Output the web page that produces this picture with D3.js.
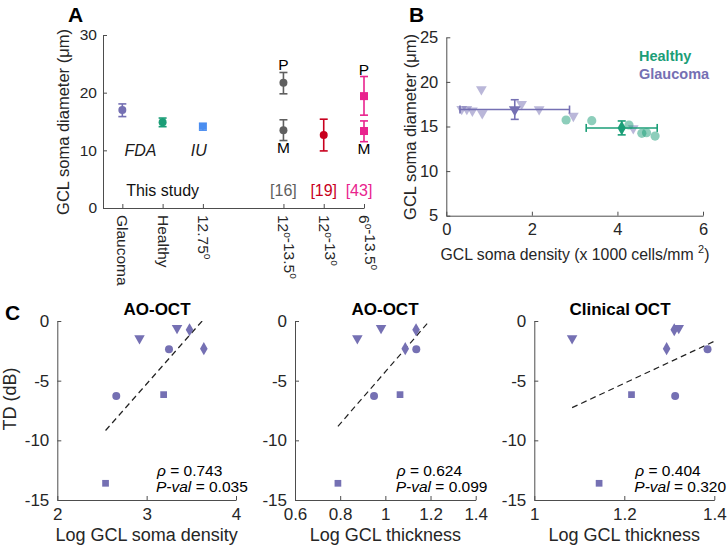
<!DOCTYPE html>
<html>
<head>
<meta charset="utf-8">
<script src="https://cdn.jsdelivr.net/npm/d3@7"></script>
<style>
  body { margin: 0; background: #fff; }
  svg { font-family: "Liberation Sans", Arial, Helvetica, sans-serif; }
  .axis path, .axis line { stroke: #4d4d4d; }
  .axis text { fill: #262626; font-family: "Liberation Sans", Arial, sans-serif; }
</style>
</head>
<body>
<div id="fig"></div>
<script>
// ---- panel A data
var studyCats = ["Glaucoma", "Healthy", "12.75"];
var studyMean = [17.0, 14.85, 14.1];
var studyLo = [15.85, 14.1, 13.5];
var studyHi = [18.05, 15.6, 14.7];
var studyNotes = ["", "FDA", "IU"];
var litCats = ["12-13.5", "12-13.5", "12-13", "6-13.5", "6-13.5"];
var litKind = ["P", "M", "", "P", "M"];
var litMean = [21.7, 13.5, 12.65, 19.4, 13.35];
var litLo = [19.8, 11.7, 9.9, 16.1, 11.5];
var litHi = [23.5, 15.3, 15.4, 22.8, 15.1];
var litRefs = ["[16]", "[19]", "[43]"];
var aCats = ["Glaucoma", "Healthy", "12.75", "", "12-13.5", "12-13", "6-13.5"];
var aTicksY = [0, 10, 20, 30];

// ---- panel B data
var glDensity = [0.36, 0.48, 0.61, 0.84, 0.82, 1.76, 2.17, 2.97, 4.37];
var glDiam = [16.96, 16.96, 16.77, 16.48, 19.17, 17.52, 16.93, 16.18, 14.8];
var hDensity = [2.80, 3.40, 4.27, 4.57, 4.68, 4.88];
var hDiam = [15.73, 15.65, 15.17, 14.24, 14.3, 13.93];
var groupNames = ["Glaucoma", "Healthy"];
var meanDensity = [1.6, 4.1];
var sdDensity = [1.28, 0.83];
var meanDiam = [16.9, 14.84];
var sdDiam = [1.1, 0.78];
var bTicksX = [0, 2, 4, 6];
var bTicksY = [5, 10, 15, 20, 25];

// ---- panel C data
var cShapes = ["triangle", "triangle", "diamond", "diamond", "circle", "circle", "square", "square"];
var td = [-1.45, -0.6, -0.73, -2.32, -2.37, -6.28, -6.17, -13.6];
var logSomaDensity = [2.92, 3.34, 3.48, 3.64, 3.25, 2.66, 3.19, 2.54];
var logThickAO = [0.876, 0.981, 1.136, 1.088, 1.137, 0.950, 1.065, 0.790];
var logThickClin = [1.084, 1.321, 1.311, 1.294, 1.385, 1.313, 1.216, 1.144];
var cTitles = ["AO-OCT", "AO-OCT", "Clinical OCT"];
var cXLabels = ["Log GCL soma density", "Log GCL thickness", "Log GCL thickness"];
var cRho = ["0.743", "0.624", "0.404"];
var cPval = ["0.035", "0.099", "0.320"];
var cTicksX = [[2, 3, 4], [0.6, 0.8, 1, 1.2, 1.4], [1, 1.2, 1.4]];
var cDomains = [[2, 4], [0.6, 1.4], [1, 1.4]];
var cTicksY = [0, -5, -10, -15];

var purple = "#7570b3", green = "#1b9e77";
var W = 728, H = 550;
var plain = function(d) { return String(d); };  // keep hyphen minus like the original

var svg = d3.select("#fig").append("svg").attr("width", W).attr("height", H);

function errBar(g, x, lo, hi, cap, color) {
  g.append("line").attr("x1", x).attr("x2", x).attr("y1", lo).attr("y2", hi)
    .attr("stroke", color).attr("stroke-width", 1.6);
  [lo, hi].forEach(function(y) {
    g.append("line").attr("x1", x - cap).attr("x2", x + cap).attr("y1", y).attr("y2", y)
      .attr("stroke", color).attr("stroke-width", 1.6);
  });
}
function hErrBar(g, y, lo, hi, cap, color) {
  g.append("line").attr("y1", y).attr("y2", y).attr("x1", lo).attr("x2", hi)
    .attr("stroke", color).attr("stroke-width", 1.6);
  [lo, hi].forEach(function(x) {
    g.append("line").attr("y1", y - cap).attr("y2", y + cap).attr("x1", x).attr("x2", x)
      .attr("stroke", color).attr("stroke-width", 1.6);
  });
}
function symPath(shape, size) {
  var t = { triangle: d3.symbolTriangle, diamond: d3.symbolDiamond, circle: d3.symbolCircle, square: d3.symbolSquare }[shape];
  return d3.symbol().type(t).size(size)();
}
function styleAxis(g) {
  g.attr("class", "axis").attr("font-family", null).selectAll("path").attr("stroke-width", 1);
}
function degLabel(sel, txt) {
  // "12-13.5" -> 12o-13.5o with superscript o's
  txt.split("-").forEach(function(p, i) {
    sel.append("tspan").text((i > 0 ? "-" : "") + p);
    sel.append("tspan").attr("font-size", 10).attr("dy", -6).text("o");
    sel.append("tspan").attr("dy", 6).text("");
  });
}

// ================= Panel A =================
var ax = d3.scaleLinear().domain([-0.48, 6]).range([103, 364]);
var ay = d3.scaleLinear().domain([0, 30]).range([208, 35]);
var gA = svg.append("g");

gA.append("g").attr("transform", "translate(0,208)")
  .call(d3.axisBottom(ax).tickValues([0, 1, 2, 4, 5, 6]).tickFormat("").tickSizeInner(-4).tickSizeOuter(0))
  .call(styleAxis);
gA.append("g").attr("transform", "translate(103,0)")
  .call(d3.axisLeft(ay).tickValues(aTicksY).tickFormat(plain).tickSizeInner(-4).tickSizeOuter(0).tickPadding(6))
  .call(styleAxis)
  .selectAll("text").attr("font-size", 15.5);

aCats.forEach(function(c, i) {
  if (!c) return;
  var t = gA.append("text").attr("transform", "translate(" + (ax(i) - 5) + ",215) rotate(90)")
    .attr("font-size", 15.5).attr("fill", "#262626");
  if (c === "Glaucoma" || c === "Healthy") t.text(c);
  else degLabel(t, c);
});

gA.append("text").attr("transform", "translate(69,122) rotate(-90)").attr("text-anchor", "middle")
  .attr("font-size", 16.5).attr("fill", "#262626").text("GCL soma diameter (\u03bcm)");

var studyColors = [purple, green, "#4a8df0"];
var noteShift = [0, -0.55, -0.1];
studyCats.forEach(function(c, i) {
  var x = ax(aCats.indexOf(c));
  errBar(gA, x, ay(studyLo[i]), ay(studyHi[i]), 4, studyColors[i]);
  if (i < 2) gA.append("circle").attr("cx", x).attr("cy", ay(studyMean[i])).attr("r", 4).attr("fill", studyColors[i]);
  else gA.append("rect").attr("x", x - 4).attr("y", ay(studyMean[i]) - 3).attr("width", 8).attr("height", 6).attr("fill", studyColors[i]);
  if (studyNotes[i]) gA.append("text").attr("x", ax(i + noteShift[i])).attr("y", 156).attr("text-anchor", "middle")
    .attr("font-size", 16).attr("font-style", "italic").attr("fill", "#1a1a1a").text(studyNotes[i]);
});
gA.append("text").attr("x", ax(1)).attr("y", 196).attr("text-anchor", "middle")
  .attr("font-size", 16).attr("fill", "#111").text("This study");

var refColors = { "[16]": "#5f5f5f", "[19]": "#c8001e", "[43]": "#e9238e" };
var litRefOf = ["[16]", "[16]", "[19]", "[43]", "[43]"];
litCats.forEach(function(c, i) {
  var x = ax(aCats.indexOf(c)), col = refColors[litRefOf[i]];
  errBar(gA, x, ay(litLo[i]), ay(litHi[i]), 4, col);
  if (litRefOf[i] === "[43]")
    gA.append("rect").attr("x", x - 4).attr("y", ay(litMean[i]) - 4).attr("width", 8).attr("height", 8).attr("fill", col);
  else gA.append("circle").attr("cx", x).attr("cy", ay(litMean[i])).attr("r", 4).attr("fill", col);
  if (litKind[i] === "P")
    gA.append("text").attr("x", x).attr("y", ay(litHi[i]) - 2).attr("text-anchor", "middle").attr("font-size", 15.5).text("P");
  if (litKind[i] === "M")
    gA.append("text").attr("x", x).attr("y", ay(litLo[i]) + 12).attr("text-anchor", "middle").attr("font-size", 15.5).text("M");
});
litRefs.forEach(function(r, i) {
  var idx = litRefOf.indexOf(r);
  gA.append("text").attr("x", ax(aCats.indexOf(litCats[idx])) - (i === 2 ? 5 : 0)).attr("y", 196)
    .attr("text-anchor", "middle").attr("font-size", 16).attr("fill", refColors[r]).text(r);
});
svg.append("text").attr("x", 68).attr("y", 22).attr("font-size", 21).attr("font-weight", "bold").text("A");

// ================= Panel B =================
var bx = d3.scaleLinear().domain([0, 6]).range([446.3, 703]);
var by = d3.scaleLinear().domain([5, 25]).range([215.7, 37.3]);
var gB = svg.append("g");
gB.append("g").attr("transform", "translate(0,215.7)")
  .call(d3.axisBottom(bx).tickValues(bTicksX).tickFormat(plain).tickSizeInner(-4).tickSizeOuter(0).tickPadding(8))
  .call(styleAxis).selectAll("text").attr("font-size", 16.5);
gB.append("g").attr("transform", "translate(446.3,0)")
  .call(d3.axisLeft(by).tickValues(bTicksY).tickFormat(plain).tickSizeInner(-4).tickSizeOuter(0).tickPadding(8))
  .call(styleAxis).selectAll("text").attr("font-size", 16.5);

var xl = gB.append("text").attr("x", 575).attr("y", 260).attr("text-anchor", "middle").attr("font-size", 15.8).attr("fill", "#262626");
xl.append("tspan").text("GCL soma density (x 1000 cells/mm ");
xl.append("tspan").attr("dy", -7).attr("font-size", 11).text("2");
xl.append("tspan").attr("dy", 7).text(")");
gB.append("text").attr("transform", "translate(416,127) rotate(-90)").attr("text-anchor", "middle")
  .attr("font-size", 16.5).attr("fill", "#262626").text("GCL soma diameter (\u03bcm)");

var tri = symPath("triangle", 50);
gB.selectAll(".gl").data(glDensity).enter().append("path")
  .attr("d", tri).attr("fill", purple).attr("fill-opacity", 0.5)
  .attr("transform", function(d, i) { return "translate(" + bx(d) + "," + by(glDiam[i]) + ") rotate(180)"; });
gB.selectAll(".hl").data(hDensity).enter().append("circle")
  .attr("cx", function(d) { return bx(d); }).attr("cy", function(d, i) { return by(hDiam[i]); })
  .attr("r", 4.6).attr("fill", green).attr("fill-opacity", 0.5);

[purple, green].forEach(function(col, i) {
  var cx = bx(meanDensity[i]), cy = by(meanDiam[i]);
  hErrBar(gB, cy, bx(meanDensity[i] - sdDensity[i]), bx(meanDensity[i] + sdDensity[i]), 4, col);
  errBar(gB, cx, by(meanDiam[i] - sdDiam[i]), by(meanDiam[i] + sdDiam[i]), 4, col);
  gB.append("path").attr("d", i === 0 ? symPath("triangle", 60) : symPath("diamond", 60)).attr("fill", col)
    .attr("transform", "translate(" + cx + "," + cy + ")" + (i === 0 ? " rotate(180)" : ""));
});
gB.append("text").attr("x", 639).attr("y", 61).attr("font-size", 14.5).attr("font-weight", "bold").attr("fill", green).text(groupNames[1]);
gB.append("text").attr("x", 639).attr("y", 79).attr("font-size", 14.5).attr("font-weight", "bold").attr("fill", purple).text(groupNames[0]);
svg.append("text").attr("x", 409).attr("y", 22).attr("font-size", 21).attr("font-weight", "bold").text("B");

// ================= Panel C =================
var cy = d3.scaleLinear().domain([-15, 0]).range([500, 321]);
var cRanges = [[57.3, 236], [295, 475.7], [534.3, 714.3]];
var cX = [logSomaDensity, logThickAO, logThickClin];
var cTitleX = [157, 385, 620];

cX.forEach(function(xs, k) {
  var x = d3.scaleLinear().domain(cDomains[k]).range(cRanges[k]);
  var g = svg.append("g");
  g.append("g").attr("transform", "translate(0,500)")
    .call(d3.axisBottom(x).tickValues(cTicksX[k]).tickFormat(plain).tickSizeInner(-4).tickSizeOuter(0).tickPadding(8))
    .call(styleAxis).selectAll("text").attr("font-size", 17);
  g.append("g").attr("transform", "translate(" + cRanges[k][0] + ",0)")
    .call(d3.axisLeft(cy).tickValues(cTicksY).tickFormat(plain).tickSizeInner(-4).tickSizeOuter(0).tickPadding(8))
    .call(styleAxis).selectAll("text").attr("font-size", 17);

  // least squares fit, from min x to the right edge, clipped to the plot box
  var mx = d3.mean(xs), my = d3.mean(td);
  var slope = d3.sum(xs, function(v, i) { return (v - mx) * (td[i] - my); }) / d3.sum(xs, function(v) { return (v - mx) * (v - mx); });
  var x0 = d3.min(xs), x1 = cDomains[k][1];
  var clipId = "clip" + k;
  g.append("clipPath").attr("id", clipId).append("rect")
    .attr("x", cRanges[k][0]).attr("y", 321).attr("width", cRanges[k][1] - cRanges[k][0]).attr("height", 179);
  g.append("line").attr("clip-path", "url(#" + clipId + ")")
    .attr("x1", x(x0)).attr("y1", cy(my + slope * (x0 - mx)))
    .attr("x2", x(x1)).attr("y2", cy(my + slope * (x1 - mx)))
    .attr("stroke", "#222").attr("stroke-width", 1.2).attr("stroke-dasharray", "6,4");

  g.selectAll(".pt").data(xs).enter().append("path")
    .attr("d", function(d, i) {
      var s = cShapes[i];
      return symPath(s, s === "square" ? 45 : s === "circle" ? 50 : s === "diamond" ? 50 : 48);
    })
    .attr("fill", purple)
    .attr("transform", function(d, i) {
      return "translate(" + x(d) + "," + cy(td[i]) + ")" + (cShapes[i] === "triangle" ? " rotate(180)" : "");
    });

  g.append("text").attr("x", cTitleX[k]).attr("y", 315).attr("text-anchor", "middle")
    .attr("font-size", 17).attr("font-weight", "bold").text(cTitles[k]);
  g.append("text").attr("x", (cRanges[k][0] + cRanges[k][1]) / 2).attr("y", 541).attr("text-anchor", "middle")
    .attr("font-size", 18).attr("fill", "#262626").text(cXLabels[k]);

  var tx = cRanges[k][1] - 79;
  var r = g.append("text").attr("x", tx).attr("y", 476).attr("font-size", 15.5);
  r.append("tspan").attr("font-style", "italic").text("\u03c1");
  r.append("tspan").text(" = " + cRho[k]);
  var p = g.append("text").attr("x", tx - 1).attr("y", 492).attr("font-size", 15.5);
  p.append("tspan").attr("font-style", "italic").text("P-val");
  p.append("tspan").text(" = " + cPval[k]);
});
svg.append("text").attr("transform", "translate(16,399) rotate(-90)").attr("text-anchor", "middle")
  .attr("font-size", 18).attr("fill", "#262626").text("TD (dB)");
svg.append("text").attr("x", 5).attr("y", 320).attr("font-size", 21).attr("font-weight", "bold").text("C");
</script>
</body>
</html>
